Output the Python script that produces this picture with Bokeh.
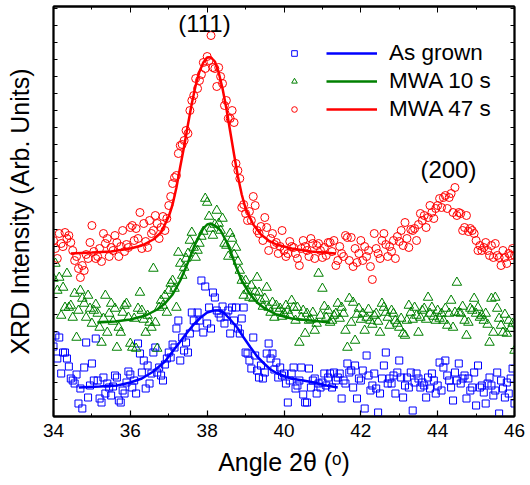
from bokeh.plotting import figure
from bokeh.models import Range1d, FixedTicker, LinearAxis, Legend, LegendItem, Label
from bokeh.embed import file_html
from bokeh.resources import INLINE

FONT = "Liberation Sans"

# ---- data (2theta in degrees, intensity in arbitrary units) ----
angle = [
    34.00, 34.05, 34.10, 34.15, 34.20, 34.25, 34.30, 34.35, 34.40, 34.45,
    34.50, 34.55, 34.60, 34.65, 34.70, 34.75, 34.80, 34.85, 34.90, 34.95,
    35.00, 35.05, 35.10, 35.15, 35.20, 35.25, 35.30, 35.35, 35.40, 35.45,
    35.50, 35.55, 35.60, 35.65, 35.70, 35.75, 35.80, 35.85, 35.90, 35.95,
    36.00, 36.05, 36.10, 36.15, 36.20, 36.25, 36.30, 36.35, 36.40, 36.45,
    36.50, 36.55, 36.60, 36.65, 36.70, 36.75, 36.80, 36.85, 36.90, 36.95,
    37.00, 37.05, 37.10, 37.15, 37.20, 37.25, 37.30, 37.35, 37.40, 37.45,
    37.50, 37.55, 37.60, 37.65, 37.70, 37.75, 37.80, 37.85, 37.90, 37.95,
    38.00, 38.05, 38.10, 38.15, 38.20, 38.25, 38.30, 38.35, 38.40, 38.45,
    38.50, 38.55, 38.60, 38.65, 38.70, 38.75, 38.80, 38.85, 38.90, 38.95,
    39.00, 39.05, 39.10, 39.15, 39.20, 39.25, 39.30, 39.35, 39.40, 39.45,
    39.50, 39.55, 39.60, 39.65, 39.70, 39.75, 39.80, 39.85, 39.90, 39.95,
    40.00, 40.05, 40.10, 40.15, 40.20, 40.25, 40.30, 40.35, 40.40, 40.45,
    40.50, 40.55, 40.60, 40.65, 40.70, 40.75, 40.80, 40.85, 40.90, 40.95,
    41.00, 41.05, 41.10, 41.15, 41.20, 41.25, 41.30, 41.35, 41.40, 41.45,
    41.50, 41.55, 41.60, 41.65, 41.70, 41.75, 41.80, 41.85, 41.90, 41.95,
    42.00, 42.05, 42.10, 42.15, 42.20, 42.25, 42.30, 42.35, 42.40, 42.45,
    42.50, 42.55, 42.60, 42.65, 42.70, 42.75, 42.80, 42.85, 42.90, 42.95,
    43.00, 43.05, 43.10, 43.15, 43.20, 43.25, 43.30, 43.35, 43.40, 43.45,
    43.50, 43.55, 43.60, 43.65, 43.70, 43.75, 43.80, 43.85, 43.90, 43.95,
    44.00, 44.05, 44.10, 44.15, 44.20, 44.25, 44.30, 44.35, 44.40, 44.45,
    44.50, 44.55, 44.60, 44.65, 44.70, 44.75, 44.80, 44.85, 44.90, 44.95,
    45.00, 45.05, 45.10, 45.15, 45.20, 45.25, 45.30, 45.35, 45.40, 45.45,
    45.50, 45.55, 45.60, 45.65, 45.70, 45.75, 45.80, 45.85, 45.90, 45.95,
    46.00,
]

mwa47_counts = [
    176, 168, 158, 183, 173, 170, 184, 178, 181, 174,
    166, 156, 160, 148, 139, 151, 146, 162, 158, 174,
    191, 165, 158, 160, 168, 155, 183, 173, 178, 160,
    169, 166, 181, 174, 160, 170, 186, 165, 172, 169,
    189, 191, 176, 188, 178, 204, 168, 193, 175, 169,
    196, 183, 186, 201, 193, 178, 189, 200, 186, 198,
    211, 220, 233, 239, 241, 263, 271, 272, 276, 286,
    283, 306, 316, 321, 338, 328, 336, 342, 354, 348,
    360, 356, 381, 349, 348, 330, 349, 340, 333, 311,
    316, 298, 298, 306, 294, 253, 246, 238, 209, 212,
    203, 196, 205, 196, 220, 211, 186, 183, 190, 176,
    199, 189, 166, 178, 183, 172, 174, 163, 170, 186,
    166, 160, 163, 175, 170, 169, 163, 158, 151, 168,
    176, 170, 166, 160, 178, 173, 158, 171, 173, 166,
    159, 169, 161, 174, 174, 165, 176, 151, 156, 170,
    163, 160, 181, 179, 156, 179, 150, 168, 154, 163,
    176, 156, 170, 160, 166, 150, 137, 183, 168, 163,
    158, 176, 183, 172, 160, 170, 165, 176, 158, 180,
    175, 186, 171, 194, 178, 169, 187, 186, 188, 176,
    192, 203, 196, 201, 189, 199, 211, 204, 198, 208,
    211, 218, 209, 219, 221, 208, 219, 223, 204, 229,
    201, 204, 203, 186, 189, 201, 185, 188, 186, 183,
    176, 166, 171, 166, 169, 174, 166, 161, 171, 159,
    173, 161, 159, 151, 166, 159, 153, 163, 161, 168,
    161,
]

mwa10_counts = [
    138, 153, 126, 139, 101, 129, 109, 143, 109, 111,
    99, 123, 79, 106, 126, 118, 113, 99, 121, 108,
    93, 106, 112, 103, 89, 74, 98, 121, 84, 103,
    113, 95, 108, 69, 89, 84, 104, 111, 113, 99,
    73, 69, 98, 68, 108, 124, 106, 97, 84, 101,
    94, 89, 148, 94, 68, 109, 116, 111, 121, 104,
    126, 133, 136, 128, 109, 164, 153, 141, 149, 158,
    163, 176, 184, 169, 159, 166, 173, 180, 185, 218,
    214, 200, 188, 181, 192, 206, 193, 186, 198, 173,
    171, 160, 183, 178, 162, 169, 155, 146, 136, 121,
    136, 126, 119, 131, 118, 125, 139, 124, 116, 110,
    118, 129, 109, 104, 114, 99, 111, 105, 108, 100,
    103, 111, 106, 101, 116, 109, 96, 109, 74, 99,
    106, 83, 103, 96, 97, 104, 86, 93, 143, 101,
    128, 110, 99, 106, 94, 96, 101, 103, 113, 98,
    109, 103, 86, 69, 118, 94, 114, 76, 102, 108,
    97, 103, 86, 99, 107, 96, 92, 101, 103, 95,
    84, 113, 109, 104, 99, 91, 106, 103, 96, 93,
    89, 98, 83, 81, 96, 111, 104, 97, 109, 101,
    84, 99, 106, 108, 97, 119, 103, 109, 100, 96,
    106, 98, 103, 96, 108, 91, 103, 116, 89, 104,
    134, 104, 103, 110, 96, 81, 94, 108, 106, 118,
    103, 109, 99, 101, 96, 103, 92, 74, 118, 84,
    119, 108, 98, 91, 84, 102, 83, 96, 88, 93,
    66,
]

grown_counts = [
    70, 81, 58, 79, 43, 64, 64, 58, 50, 38,
    36, 33, 42, 13, 28, 8, 49, 74, 19, 31,
    53, 36, 78, 36, 18, 14, 39, 23, 33, 29,
    21, 30, 41, 39, 16, 14, 26, 23, 34, 45,
    42, 29, 36, 23, 73, 63, 44, 56, 28, 51,
    33, 43, 64, 69, 44, 49, 41, 36, 52, 58,
    64, 59, 72, 69, 88, 96, 56, 79, 66, 74,
    64, 83, 104, 96, 89, 104, 96, 136, 84, 130,
    93, 109, 88, 124, 119, 106, 103, 99, 110, 93,
    100, 106, 83, 109, 96, 109, 88, 83, 98, 109,
    64, 63, 56, 48, 79, 61, 46, 39, 51, 38,
    44, 63, 73, 58, 63, 47, 54, 39, 49, 41,
    43, 33, 14, 36, 43, 49, 28, 31, 36, 49,
    22, 14, 14, 48, 29, 36, 38, 23, 33, 29,
    34, 43, 31, 39, 43, 29, 44, 36, 39, 43,
    18, 36, 33, 53, 44, 46, 29, 51, 18, 38,
    36, 46, 8, 61, 41, 26, 31, 43, 28, 4,
    23, 38, 51, 64, 33, 38, 33, 41, 23, 44,
    56, 39, 19, 31, 39, 29, 44, 6, 34, 43,
    38, 29, 34, 31, 19, 39, 28, 43, 36, 23,
    31, 54, 26, 49, 56, 41, 36, 29, 16, 44,
    36, 53, 33, 38, 41, 18, 38, 26, 29, 44,
    11, 51, 29, 31, 24, 13, 33, 39, 31, 21,
    26, 44, 3, 36, 28, 19, 34, 23, 38, 48,
    13,
]

# fitted peak curves
fit47_x = [34.45, 35.0, 35.5, 36.0, 36.3, 36.6, 36.8, 37.0, 37.1, 37.2, 37.3, 37.4,
           37.5, 37.6, 37.7, 37.8, 37.9, 38.0, 38.1, 38.2, 38.3, 38.4, 38.5, 38.6,
           38.7, 38.8, 38.9, 39.0, 39.2, 39.4, 39.6, 39.8, 40.2, 40.7, 41.35]
fit47_y = [163, 164, 165, 168, 171, 177, 184, 200, 212, 229, 250, 270,
           292, 313, 331, 345, 354, 359, 359, 355, 344, 328, 308, 285,
           262, 240, 222, 208, 192, 182, 176, 172, 168, 165, 163]

fit10_x = [35.14, 35.6, 36.0, 36.4, 36.7, 36.9, 37.1, 37.3, 37.5, 37.7, 37.9, 38.0,
           38.1, 38.2, 38.35, 38.5, 38.6, 38.75, 38.9, 39.1, 39.3, 39.5, 39.8, 40.2,
           40.7, 41.2]
fit10_y = [94, 95, 97, 101, 107, 113, 122, 136, 154, 174, 188, 192,
           193, 191, 186, 175, 166, 150, 136, 123, 114, 108, 102, 98,
           96, 94]

fitg_x = [34.66, 35.2, 35.66, 36.0, 36.3, 36.6, 36.9, 37.12, 37.3, 37.48, 37.65, 37.83,
          38.0, 38.17, 38.3, 38.43, 38.6, 38.78, 38.95, 39.13, 39.3, 39.48, 39.65, 39.83,
          40.17, 40.5, 40.78, 41.1, 41.4]
fitg_y = [29, 30, 31, 34, 38, 45, 55, 66, 75, 84, 92, 99,
          104, 106, 106, 104, 97, 89, 79, 69, 60, 53, 47, 43,
          38, 36, 34, 31, 29]

series_names = ["As grown", "MWA 10 s", "MWA 47 s"]
x_major = [34, 36, 38, 40, 42, 44, 46]
x_minor = [35, 37, 39, 41, 43, 45]
y_ticks = [17, 34, 51, 68, 85, 102, 119, 136, 153, 170, 187, 204, 221, 238,
           255, 272, 289, 306, 323, 340, 357, 374, 391, 408]
peak_labels = ["(111)", "(200)"]
peak_label_x = [37.93, 44.28]
peak_label_y = [393, 247]

BLUE, GREEN, RED = "#0000ff", "#008000", "#ff0000"

p = figure(width=530, height=485, x_range=Range1d(34, 46), y_range=Range1d(0, 410),
           output_backend="svg", toolbar_location=None,
           min_border_left=53, min_border_right=16, min_border_top=6, min_border_bottom=69,
           x_axis_label="Angle 2θ (ᵒ)", y_axis_label="XRD Intensity (Arb. Units)")
p.grid.visible = False
p.outline_line_color = "black"
p.outline_line_width = 1.8
p.background_fill_color = "white"
p.border_fill_color = "white"

xt = FixedTicker(ticks=x_major, minor_ticks=x_minor)
yt = FixedTicker(ticks=y_ticks, minor_ticks=[])

for ax in p.xaxis:
    ax.ticker = xt
    ax.major_tick_in = 6
    ax.major_tick_out = 0
    ax.minor_tick_in = 3
    ax.minor_tick_out = 0
    ax.axis_line_width = 1.8
    ax.major_tick_line_width = 1.2
    ax.major_label_text_font = FONT
    ax.major_label_text_font_size = "19px"
    ax.major_label_text_color = "black"
    ax.major_label_standoff = 7
    ax.axis_label_text_font = FONT
    ax.axis_label_text_font_size = "25px"
    ax.axis_label_text_font_style = "normal"
    ax.axis_label_text_color = "black"
    ax.axis_label_standoff = 8

for ax in p.yaxis:
    ax.ticker = yt
    ax.major_tick_in = 4
    ax.major_tick_out = 0
    ax.minor_tick_in = 0
    ax.minor_tick_out = 0
    ax.axis_line_width = 1.8
    ax.major_label_text_font_size = "0px"
    ax.major_label_standoff = 0
    ax.axis_label_text_font = FONT
    ax.axis_label_text_font_size = "25px"
    ax.axis_label_text_font_style = "normal"
    ax.axis_label_text_color = "black"
    ax.axis_label_standoff = 20

top = LinearAxis(ticker=xt, major_tick_in=6, major_tick_out=0, minor_tick_in=3, minor_tick_out=0,
                 major_label_text_font_size="0px", major_label_standoff=0, axis_line_width=1.8)
right = LinearAxis(ticker=yt, major_tick_in=4, major_tick_out=0, minor_tick_in=0, minor_tick_out=0,
                   major_label_text_font_size="0px", major_label_standoff=0, axis_line_width=1.8)
p.add_layout(top, "above")
p.add_layout(right, "right")

sb = p.scatter(angle, grown_counts, marker="square", size=7, fill_color=None,
               line_color=BLUE, line_width=1)
sg = p.scatter(angle, mwa10_counts, marker="triangle", size=9.5, fill_color=None,
               line_color=GREEN, line_width=1)
sr = p.scatter(angle, mwa47_counts, marker="circle", size=8, fill_color=None,
               line_color=RED, line_width=1)

lb = p.line(fitg_x, fitg_y, line_color=BLUE, line_width=2.5)
lg = p.line(fit10_x, fit10_y, line_color=GREEN, line_width=2.5)
lr = p.line(fit47_x, fit47_y, line_color=RED, line_width=2.5)

common = dict(padding=0, margin=0, border_line_color=None, background_fill_alpha=0,
              label_text_font=FONT, label_text_font_size="22.5px", label_text_color="black",
              glyph_height=26, label_height=26, spacing=2)

legA = Legend(items=[LegendItem(label=" ", renderers=[r]) for r in (sb, sg, sr)],
              location=(234, 294), glyph_width=14, label_standoff=0, **common)
legB = Legend(items=[LegendItem(label=n, renderers=[r]) for n, r in zip(series_names, (lb, lg, lr))],
              location=(273, 294), glyph_width=51, label_standoff=12, **common)
p.add_layout(legA)
p.add_layout(legB)

for t, x, y in zip(peak_labels, peak_label_x, peak_label_y):
    p.add_layout(Label(x=x, y=y, text=t, text_align="center", text_baseline="middle",
                       text_font=FONT, text_font_size="24px", text_color="black"))

open("out.html", "w").write(file_html(p, INLINE))
